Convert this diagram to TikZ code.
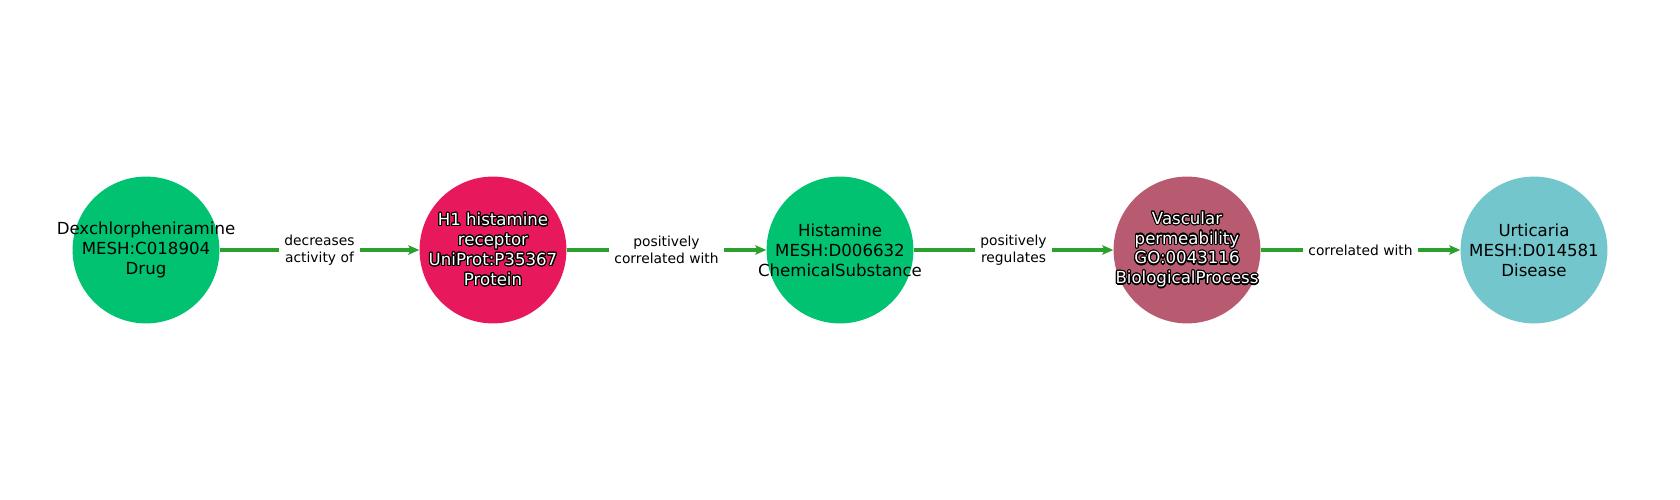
\documentclass[tikz,border=0pt]{standalone}
\usepackage{fontspec}
\setmainfont{DejaVu Sans}
\usepackage{contour}
\usetikzlibrary{arrows.meta}
\contourlength{0.8pt}
\contournumber{24}
\definecolor{drugc}{RGB}{0,194,112}
\definecolor{protc}{RGB}{232,24,93}
\definecolor{bioc}{RGB}{184,90,112}
\definecolor{disc}{RGB}{114,198,204}
\definecolor{edgec}{RGB}{44,160,44}
\newcommand{\olt}[1]{\contour{black}{#1}}

\begin{document}
\begin{tikzpicture}[x=0.254mm,y=0.254mm,
  ent/.style={circle,minimum size=37.3mm,inner sep=0pt},
  etxt/.style={align=center,inner sep=0pt,font=\fontsize{12}{14.4}\selectfont},
  rel/.style={draw=edgec,line width=2.2pt,-{Stealth[length=2.8mm,width=2.4mm,inset=0.6mm]}},
  lab/.style={fill=white,inner xsep=4pt,inner ysep=2pt,align=center,font=\fontsize{10}{12}\selectfont}]
 \useasboundingbox (0,0) rectangle (1680,500); %枠

 \node[ent,fill=drugc,label={[etxt]center:Dexchlorpheniramine\\MESH:C018904\\Drug}] (drug) at (146,250) {};
 \node[ent,fill=protc,label={[etxt,text=white]center:\olt{H1 histamine}\\\olt{receptor}\\\olt{UniProt:P35367}\\\olt{Protein}}] (hrec) at (493,250) {};
 \node[ent,fill=drugc,label={[etxt]center:Histamine\\MESH:D006632\\ChemicalSubstance}] (hist) at (840,250) {};
 \node[ent,fill=bioc,label={[etxt,text=white]center:\olt{Vascular}\\\olt{permeability}\\\olt{GO:0043116}\\\olt{BiologicalProcess}}] (vperm) at (1187,250) {};
 \node[ent,fill=disc,label={[etxt]center:Urticaria\\MESH:D014581\\Disease}] (urti) at (1534,250) {};

 \draw[rel] (drug) -- node[lab] {decreases\\activity of} (hrec);
 \draw[rel] (hrec) -- node[lab] {positively\\correlated with} (hist);
 \draw[rel] (hist) -- node[lab] {positively\\regulates} (vperm);
 \draw[rel] (vperm) -- node[lab] {correlated with} (urti);
\end{tikzpicture}
\end{document}
